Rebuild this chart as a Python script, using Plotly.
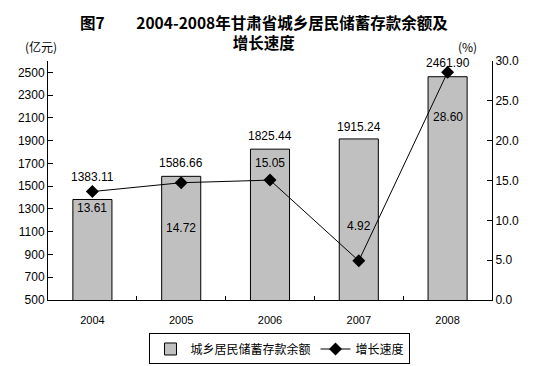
import plotly.graph_objects as go

years = [2004, 2005, 2006, 2007, 2008]
year_labels = ["2004", "2005", "2006", "2007", "2008"]
balance = [1383.11, 1586.66, 1825.44, 1915.24, 2461.90]
growth = [13.61, 14.72, 15.05, 4.92, 28.60]
bal_labels = ["1383.11", "1586.66", "1825.44", "1915.24", "2461.90"]
growth_labels = ["13.61", "14.72", "15.05", "4.92", "28.60"]
bal_shift = [22, 13, 13, 12, 14]
growth_shift = [-16, -45, 17, 35, -45]
left_ticks = [500, 700, 900, 1100, 1300, 1500, 1700, 1900, 2100, 2300, 2500]
right_ticks = [0, 5, 10, 15, 20, 25, 30]

FONT = "Liberation Sans, Arial, sans-serif"
CJK = "Noto Sans CJK SC, sans-serif"

fig = go.Figure()
fig.add_trace(go.Bar(
    x=years, y=balance, name="城乡居民储蓄存款余额",
    marker=dict(color="#c0c0c0", line=dict(color="black", width=1)),
    width=0.44,
))
fig.add_trace(go.Scatter(
    x=years, y=growth, name="增长速度", yaxis="y2", mode="lines+markers",
    line=dict(color="black", width=1),
    marker=dict(symbol="diamond", size=10, color="black"),
))

anns = []
for yr, v, t, s in zip(years, balance, bal_labels, bal_shift):
    anns.append(dict(x=yr, y=v, xref="x", yref="y", text=t, showarrow=False,
                     yshift=s, font=dict(family=FONT, size=12, color="black")))
for yr, v, t, s in zip(years, growth, growth_labels, growth_shift):
    anns.append(dict(x=yr, y=v, xref="x", yref="y2", text=t, showarrow=False,
                     yshift=s, font=dict(family=FONT, size=12, color="black")))
anns += [
    dict(xref="paper", yref="paper", x=0.487, y=1.218, xanchor="center", yanchor="top",
         align="center",
         text="<b>图7         2004-2008年甘肃省城乡居民储蓄存款余额及</b><br><b>增长速度</b>",
         showarrow=False, font=dict(family=CJK, size=15.5, color="black")),
    dict(xref="paper", yref="paper", x=-0.015, y=1.059, xanchor="center", yanchor="middle",
         text="(亿元)", showarrow=False, font=dict(family=CJK, size=12, color="black")),
    dict(xref="paper", yref="paper", x=0.944, y=1.062, xanchor="center", yanchor="middle",
         text="(%)", showarrow=False, font=dict(family=CJK, size=12, color="black")),
]

fig.update_layout(
    width=529, height=358,
    margin=dict(l=40, r=45, t=53, b=66),
    paper_bgcolor="white", plot_bgcolor="white",
    font=dict(family=FONT, size=12, color="black"),
    showlegend=True,
    legend=dict(orientation="h", x=0.5225, xanchor="center",
                yref="container", y=0.0475, yanchor="middle",
                bordercolor="black", borderwidth=1, bgcolor="white",
                font=dict(family=CJK, size=12, color="black"),
                itemwidth=30),
    xaxis=dict(range=[2003.5, 2008.5], tickvals=years, ticktext=year_labels,
               showline=True, linecolor="black", linewidth=1, ticks="",
               ticklabelstandoff=10, automargin=False,
               minor=dict(tickvals=[2004.5, 2005.5, 2006.5, 2007.5], ticks="inside",
                          ticklen=4, tickcolor="black"),
               showgrid=False, zeroline=False, tickfont=dict(family=FONT, size=11)),
    yaxis=dict(range=[500, 2600], tickvals=left_ticks, showline=True, linecolor="black",
               linewidth=1, ticks="inside", ticklen=5, tickcolor="black", showgrid=False,
               zeroline=False, automargin=False, tickfont=dict(family=FONT, size=12)),
    yaxis2=dict(range=[0, 30], tickvals=right_ticks, tickformat=".1f", overlaying="y",
                side="right", showline=True, linecolor="black", linewidth=1,
                ticks="inside", ticklen=5, tickcolor="black", showgrid=False,
                zeroline=False, automargin=False, tickfont=dict(family=FONT, size=12)),
    annotations=anns,
)

fig.write_html("out.html")
